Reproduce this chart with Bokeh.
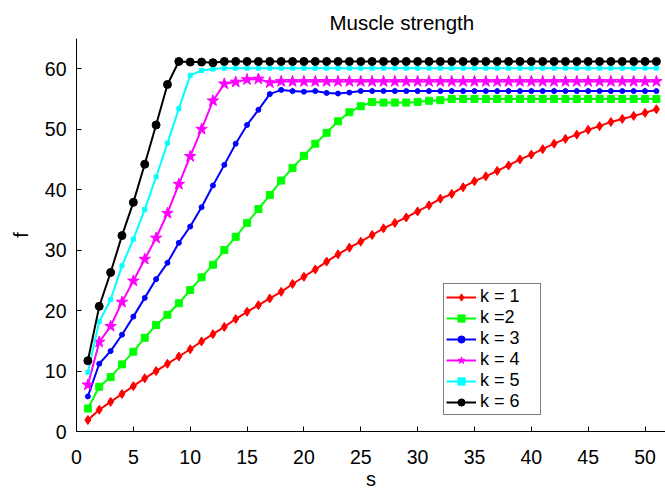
from bokeh.plotting import figure
from bokeh.embed import file_html
from bokeh.resources import INLINE
from bokeh.models import Legend, LegendItem, FixedTicker

s = list(range(1, 52))

k1 = [1.9, 3.6, 4.9, 6.2, 7.5, 8.8, 10.0, 11.2, 12.4, 13.6,
      14.9, 16.1, 17.3, 18.6, 19.8, 20.9, 22.0, 23.1, 24.4, 25.6,
      26.8, 28.1, 29.3, 30.4, 31.4, 32.5, 33.6, 34.5, 35.4, 36.4,
      37.4, 38.5, 39.3, 40.4, 41.4, 42.2, 43.1, 44.0, 45.0, 45.8,
      46.7, 47.6, 48.4, 49.1, 49.9, 50.5, 51.2, 51.7, 52.2, 52.7,
      53.3]
k2 = [3.8, 7.4, 9.0, 11.1, 13.2, 15.5, 17.6, 19.3, 21.2, 23.4,
      25.5, 27.6, 30.0, 32.2, 34.5, 36.8, 39.1, 41.5, 43.6, 45.6,
      47.6, 49.4, 51.3, 52.8, 53.8, 54.5, 54.4, 54.4, 54.4, 54.5,
      54.7, 54.8, 55.0, 55.0, 55.0, 55.0, 55.0, 55.0, 55.0, 55.0,
      55.0, 55.0, 55.0, 55.0, 55.0, 55.0, 55.0, 55.0, 55.0, 55.0,
      55.0]
k3 = [5.8, 11.2, 13.3, 16.0, 19.0, 22.1, 25.2, 27.9, 31.2, 33.9,
      37.1, 40.7, 44.1, 47.6, 50.7, 53.2, 55.8, 56.5, 56.3, 56.2,
      56.3, 56.0, 55.9, 56.05, 56.3, 56.3, 56.3, 56.3, 56.3, 56.3,
      56.3, 56.3, 56.3, 56.3, 56.3, 56.3, 56.3, 56.3, 56.3, 56.3,
      56.3, 56.3, 56.3, 56.3, 56.3, 56.3, 56.3, 56.3, 56.3, 56.3,
      56.3]
k4 = [7.7, 14.8, 17.4, 21.4, 24.9, 28.5, 32.0, 36.1, 40.9, 45.5,
      50.0, 54.7, 57.5, 57.8, 58.2, 58.3, 57.7, 57.9, 57.9, 57.9,
      57.9, 57.9, 57.9, 57.9, 57.9, 57.9, 57.9, 57.9, 57.9, 57.9,
      57.9, 57.9, 57.9, 57.9, 57.9, 57.9, 57.9, 57.9, 57.9, 57.9,
      57.9, 57.9, 57.9, 57.9, 57.9, 57.9, 57.9, 57.9, 57.9, 57.9,
      57.9]
k5 = [9.8, 18.2, 21.8, 27.4, 31.8, 36.7, 42.1, 47.7, 53.4, 58.9,
      59.7, 59.95, 60.1, 60.1, 60.1, 60.1, 60.1, 60.1, 60.1, 60.1,
      60.1, 60.1, 60.1, 60.1, 60.1, 60.1, 60.1, 60.1, 60.1, 60.1,
      60.1, 60.1, 60.1, 60.1, 60.1, 60.1, 60.1, 60.1, 60.1, 60.1,
      60.1, 60.1, 60.1, 60.1, 60.1, 60.1, 60.1, 60.1, 60.1, 60.1,
      60.1]
k6 = [11.7, 20.7, 26.3, 32.4, 37.9, 44.2, 50.7, 57.4, 61.2, 61.1,
      61.1, 61.0, 61.2, 61.2, 61.2, 61.2, 61.2, 61.2, 61.2, 61.2,
      61.2, 61.2, 61.2, 61.2, 61.2, 61.2, 61.2, 61.2, 61.2, 61.2,
      61.2, 61.2, 61.2, 61.2, 61.2, 61.2, 61.2, 61.2, 61.2, 61.2,
      61.2, 61.2, 61.2, 61.2, 61.2, 61.2, 61.2, 61.2, 61.2, 61.2,
      61.2]

labels = ["k = 1", "k =2", "k = 3", "k = 4", "k = 5", "k = 6"]
series = [k1, k2, k3, k4, k5, k6]
colors = ["#ff0000", "#00ff00", "#0000ff", "#ff00ff", "#00ffff", "#000000"]
markers = ["diamond", "square", "circle", "star", "square", "circle"]
msizes = [9, 7, 5, 12, 4, 8]

x_ticks = [0, 5, 10, 15, 20, 25, 30, 35, 40, 45, 50]
y_ticks = [0, 10, 20, 30, 40, 50, 60]

FONT = "Liberation Sans"

p = figure(width=665, height=492, x_range=(0, 51.8), y_range=(0, 65),
           output_backend="svg", toolbar_location=None,
           min_border_left=76, min_border_right=0, min_border_top=38,
           min_border_bottom=0)

p.title.text = "Muscle strength"
p.title.align = "left"
p.title.offset = 253
p.title.text_font = FONT
p.title.text_font_size = "20.5px"
p.title.text_font_style = "normal"
p.title.text_color = "black"
p.title.standoff = 10

p.xgrid.visible = False
p.ygrid.visible = False
p.outline_line_color = None

items = []
for lab, ys, c, m, ms in zip(labels, series, colors, markers, msizes):
    r1 = p.line(s, ys, line_color=c, line_width=2)
    r2 = p.scatter(s, ys, marker=m, size=ms, fill_color=c, line_color=c)
    items.append(LegendItem(label=lab, renderers=[r1, r2]))

legend = Legend(items=items, location=(367, 16))
legend.border_line_color = "black"
legend.border_line_width = 1
legend.background_fill_color = "white"
legend.background_fill_alpha = 1
legend.label_text_font = FONT
legend.label_text_font_size = "18px"
legend.label_text_color = "black"
legend.glyph_width = 30
legend.glyph_height = 18
legend.label_height = 18
legend.label_width = 58
legend.spacing = 0
legend.padding = 2
legend.margin = 0
legend.label_standoff = 4
p.add_layout(legend, "center")

for ax in (p.xaxis[0], p.yaxis[0]):
    ax.axis_line_color = "black"
    ax.axis_line_width = 1
    ax.major_tick_line_color = "black"
    ax.major_tick_in = 5
    ax.major_tick_out = 0
    ax.minor_tick_line_color = None
    ax.major_label_text_font = FONT
    ax.major_label_text_font_size = "19.5px"
    ax.major_label_text_color = "black"
    ax.axis_label_text_font = FONT
    ax.axis_label_text_font_size = "20px"
    ax.axis_label_text_font_style = "normal"
    ax.axis_label_text_color = "black"

p.xaxis[0].ticker = FixedTicker(ticks=x_ticks)
p.yaxis[0].ticker = FixedTicker(ticks=y_ticks)
p.xaxis[0].axis_label = "s"
p.yaxis[0].axis_label = "f"
p.xaxis[0].major_label_standoff = 18
p.xaxis[0].axis_label_standoff = 1
p.yaxis[0].major_label_standoff = 10
p.yaxis[0].axis_label_standoff = 10

open("out.html", "w").write(file_html(p, INLINE))
